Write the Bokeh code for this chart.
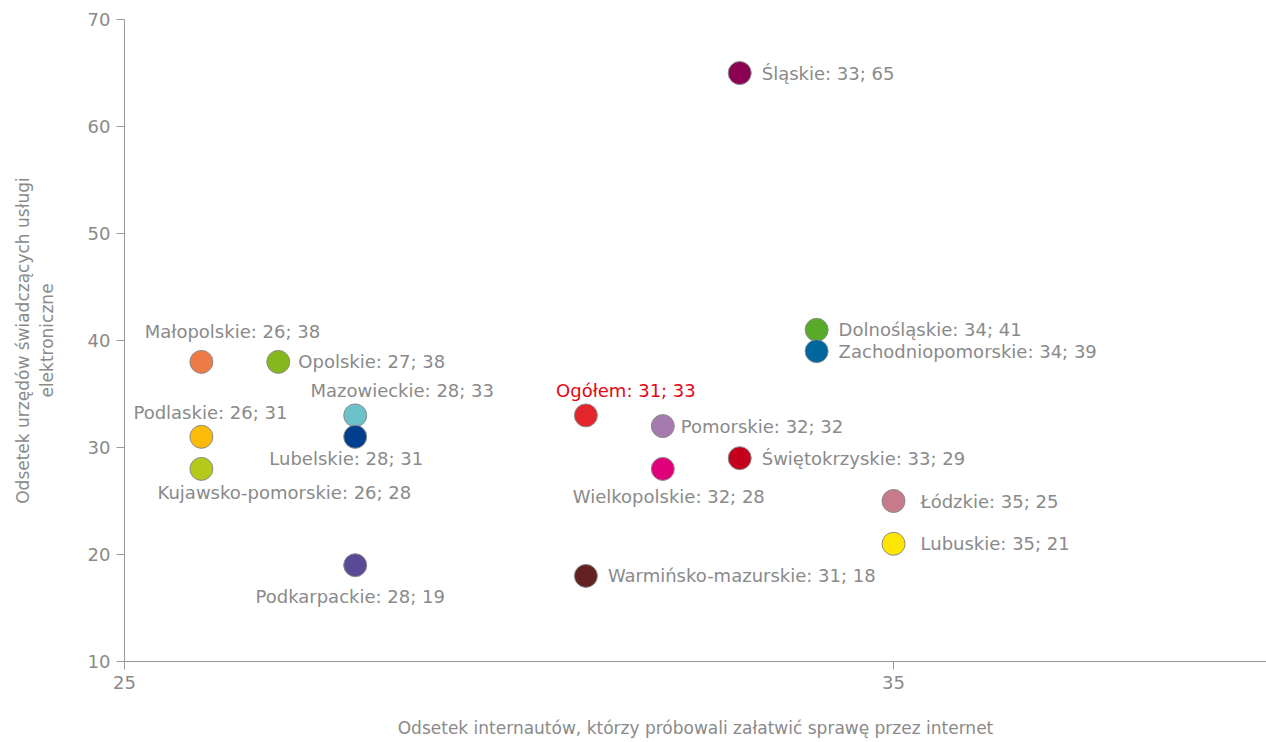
from bokeh.plotting import figure
from bokeh.models import ColumnDataSource, FixedTicker
from bokeh.core.properties import value
from bokeh.embed import file_html
from bokeh.resources import INLINE

regions = ["Śląskie", "Dolnośląskie", "Zachodniopomorskie", "Łódzkie", "Lubuskie",
           "Warmińsko-mazurskie", "Pomorskie", "Świętokrzyskie", "Wielkopolskie", "Ogółem",
           "Małopolskie", "Opolskie", "Mazowieckie", "Lubelskie", "Podlaskie",
           "Kujawsko-pomorskie", "Podkarpackie"]
x_vals = [33, 34, 34, 35, 35, 31, 32, 33, 32, 31, 26, 27, 28, 28, 26, 26, 28]
y_vals = [65, 41, 39, 25, 21, 18, 32, 29, 28, 33, 38, 38, 33, 31, 31, 28, 19]
colors = ["#8b0051", "#5aaa2a", "#00679e", "#c77a8a", "#ffe600",
          "#632222", "#a57aae", "#c4001d", "#e0007a", "#e3262b",
          "#ee7a45", "#84b81c", "#6cc2cb", "#003e8e", "#fbbb08",
          "#b5c91a", "#5a4a96"]

# label placement (styles, in screen pixels)
align = ["left", "left", "left", "left", "left",
         "left", "left", "left", "center", "center",
         "center", "left", "center", "center", "center",
         "center", "center"]
dx = [22, 22, 22, 27, 27, 22, 18, 22, 6, 40, 31, 20, 47, -9, 9, 83, -5]
dy = [0, 0, 0, 0, 0, 0, 0, 0, 28, -25, -30, 0, -25, 22, -24, 24, 31]
label_colors = ["#8a8a8a"] * len(regions)
label_colors[regions.index("Ogółem")] = "#e30613"

labels = [f"{r}: {x}; {y}" for r, x, y in zip(regions, x_vals, y_vals)]

src = ColumnDataSource(dict(x=x_vals, y=y_vals, c=colors, label=labels, align=align,
                            dx=dx, dy=dy, lc=label_colors))

FONT = "DejaVu Sans"
GRAY = "#8a8a8a"

p = figure(width=1266, height=742, x_range=(25, 39.85), y_range=(10, 70),
           output_backend="svg", toolbar_location=None,
           min_border_left=124, min_border_top=19, min_border_right=0, min_border_bottom=81)
p.outline_line_color = None
p.xgrid.visible = False
p.ygrid.visible = False

p.scatter("x", "y", source=src, size=23, fill_color="c", line_color="#8c8c8c", line_width=1)
p.text("x", "y", text="label", source=src, text_align="align", text_baseline="middle",
       x_offset="dx", y_offset="dy", text_color="lc", text_font=value(FONT),
       text_font_size="18px")

p.xaxis.ticker = FixedTicker(ticks=[25, 35])
p.yaxis.ticker = FixedTicker(ticks=[10, 20, 30, 40, 50, 60, 70])
for ax in (p.xaxis, p.yaxis):
    ax.axis_line_color = "#999999"
    ax.major_tick_line_color = "#999999"
    ax.major_tick_out = 8
    ax.major_tick_in = 0
    ax.minor_tick_line_color = None
    ax.major_label_text_color = GRAY
    ax.major_label_text_font = FONT
    ax.major_label_text_font_size = "18px"
    ax.axis_label_text_color = GRAY
    ax.axis_label_text_font = FONT
    ax.axis_label_text_font_size = "17px"
    ax.axis_label_text_font_style = "normal"

p.xaxis.axis_label = "Odsetek internautów, którzy próbowali załatwić sprawę przez internet"
p.yaxis.axis_label = "Odsetek urzędów świadczących usługi\nelektroniczne"
p.xaxis.axis_label_standoff = 26
p.yaxis.axis_label_standoff = 28
p.xaxis.major_label_standoff = 6
p.yaxis.major_label_standoff = 6

open("out.html", "w").write(file_html(p, INLINE))
